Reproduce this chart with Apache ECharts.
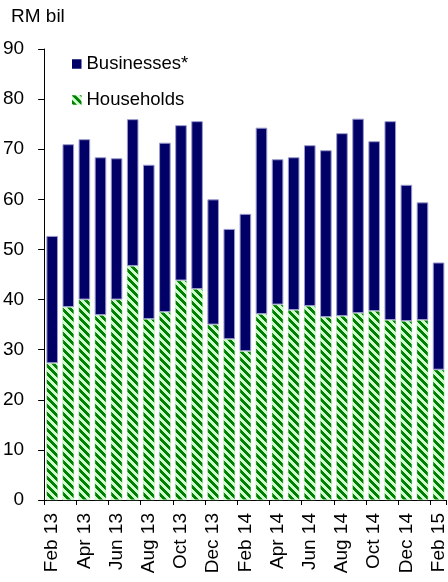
<!DOCTYPE html>
<html>
<head>
<meta charset="utf-8">
<script src="https://cdn.jsdelivr.net/npm/echarts@6/dist/echarts.min.js"></script>
<style>
  html, body { margin: 0; padding: 0; background: #fff; }
  #chart { width: 448px; height: 582px; }
</style>
</head>
<body>
<div id="chart"></div>
<script>
// Monthly loans approved, RM billion
const months = ['Feb 13', 'Mar 13', 'Apr 13', 'May 13', 'Jun 13', 'Jul 13', 'Aug 13', 'Sep 13',
  'Oct 13', 'Nov 13', 'Dec 13', 'Jan 14', 'Feb 14', 'Mar 14', 'Apr 14', 'May 14', 'Jun 14',
  'Jul 14', 'Aug 14', 'Sep 14', 'Oct 14', 'Nov 14', 'Dec 14', 'Jan 15', 'Feb 15'];
const households = [27.3, 38.5, 40.0, 36.9, 40.0, 46.7, 36.1, 37.5, 43.8, 42.1, 35.0, 32.1, 29.7,
  37.1, 39.0, 37.9, 38.7, 36.5, 36.7, 37.3, 37.7, 35.9, 35.7, 35.9, 26.0];
const businesses = [25.4, 32.5, 32.0, 31.5, 28.2, 29.3, 30.8, 33.8, 31.0, 33.5, 25.0, 22.0, 27.4,
  37.2, 29.0, 30.5, 32.1, 33.3, 36.5, 38.8, 33.9, 39.7, 27.2, 23.5, 21.4];
const yTicks = { min: 0, max: 90, step: 10 };

// Diagonal hatch fill for the household bars
function hatch() {
  const n = 8;
  const c = document.createElement('canvas');
  c.width = n; c.height = n;
  const g = c.getContext('2d');
  g.fillStyle = '#ccffcc';
  g.fillRect(0, 0, n, n);
  g.fillStyle = '#008000';
  for (let y = 0; y < n; y++) {
    for (let x = 0; x < n; x++) {
      if (((x - y) % n + n) % n < 4) g.fillRect(x, y, 1, 1);
    }
  }
  return c;
}

const FONT = 'Liberation Sans, Arial, sans-serif';
const chart = echarts.init(document.getElementById('chart'), null, { renderer: 'canvas' });

chart.setOption({
  animation: false,
  backgroundColor: '#ffffff',
  textStyle: { fontFamily: FONT, color: '#000' },
  grid: { left: 44, right: -2, top: 49, bottom: 82, containLabel: false },
  graphic: [{
    type: 'text', left: 11, top: 7,
    style: { text: 'RM bil', font: '19px ' + FONT, fill: '#000' }
  }],
  legend: {
    orient: 'vertical', left: 72, top: 53, itemGap: 14, padding: 0,
    itemWidth: 9.5, itemHeight: 9.5, icon: 'rect',
    itemStyle: { borderWidth: 0 },
    data: ['Businesses*', 'Households'],
    textStyle: { fontSize: 18.5, fontFamily: FONT, color: '#000', lineHeight: 22 }
  },
  xAxis: {
    type: 'category', data: months,
    axisLine: { lineStyle: { color: '#000', width: 1 } },
    axisTick: { show: true, interval: 1, length: 5, lineStyle: { color: '#000' } },
    axisLabel: { interval: 1, rotate: 90, margin: 13, fontSize: 19, fontFamily: FONT, color: '#000' },
    splitLine: { show: false }
  },
  yAxis: {
    type: 'value', min: yTicks.min, max: yTicks.max, interval: yTicks.step,
    axisLine: { show: true, lineStyle: { color: '#000', width: 1 } },
    axisTick: { show: true, length: 6, lineStyle: { color: '#000' } },
    axisLabel: { margin: 20, fontSize: 19, fontFamily: FONT, color: '#000' },
    splitLine: { show: false }
  },
  series: [
    {
      name: 'Households', type: 'bar', stack: 'loans', data: households,
      barCategoryGap: '28%',
      itemStyle: { color: { image: hatch(), repeat: 'repeat' }, borderColor: '#c8e8c8', borderWidth: 0.5 }
    },
    {
      name: 'Businesses*', type: 'bar', stack: 'loans', data: businesses,
      barCategoryGap: '28%',
      itemStyle: { color: '#000066', borderColor: '#9a9acc', borderWidth: 1 }
    }
  ]
});
</script>
</body>
</html>
